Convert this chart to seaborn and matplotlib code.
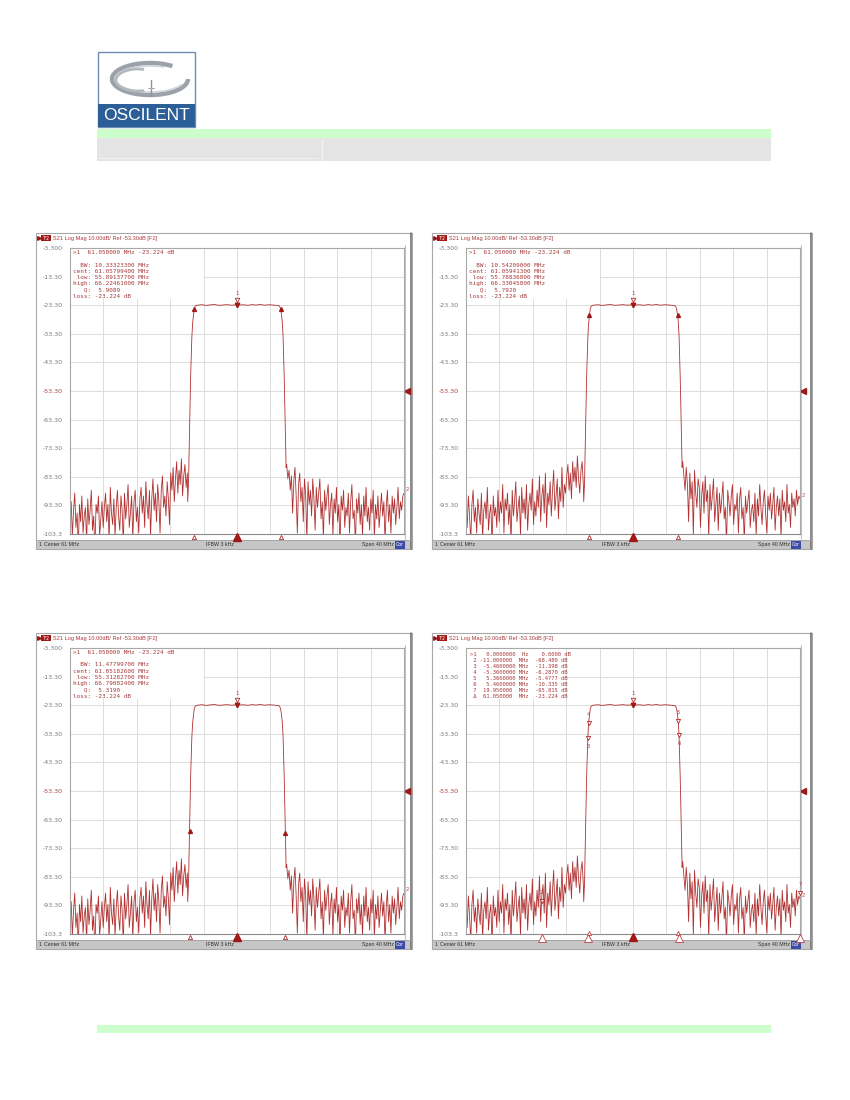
import numpy as np
import matplotlib
matplotlib.use("Agg")
import matplotlib.pyplot as plt
import matplotlib.transforms as mtransforms
from matplotlib.patches import Rectangle, Arc
import seaborn as sns

sns.set_theme(style="white")
plt.rcParams["font.family"] = ["DejaVu Sans"]

W, H = 850, 1100

# analyzer scale
f_start, f_stop = 41.0, 81.0
db_top, db_bottom = -3.3, -103.3
ref_level = -53.3
ytick_labels = ["-3.300", "-13.30", "-23.30", "-33.30", "-43.30", "-53.30",
                "-63.30", "-73.30", "-83.30", "-93.30", "-103.3"]
header_text = "S21 Log Mag 10.00dB/ Ref -53.30dB [F2]"
status_left = "Center 61 MHz"
status_mid = "IFBW 3 kHz"
status_right = "Span 40 MHz"

# filter skirts and passband
edge_lo_freq = [55.10, 55.20, 55.31, 55.45, 55.59, 55.69, 55.79, 55.89, 56.00, 56.15]
edge_lo_db = [-92.0, -85.0, -67.8, -48.0, -34.6, -29.5, -26.6, -24.6, -23.6, -23.35]
flat_db = [-23.30, -23.12, -23.38, -23.20, -23.06, -23.34, -23.24, -23.10, -23.30, -23.18,
           -23.224, -23.15, -23.34, -23.10, -23.26, -23.05, -23.30, -23.14, -23.22, -23.40]
edge_hi_freq = [66.00, 66.12, 66.225, 66.33, 66.41, 66.51, 66.65, 66.79, 66.88]
edge_hi_db = [-23.4, -23.8, -24.6, -26.6, -28.7, -33.6, -48.0, -67.8, -80.0]

# stopband noise, trace A (panels 1 and 3)
noise_lo_a = [-98, -92, -104, -95, -89, -101, -96, -108, -93, -99, -90, -103, -97, -94, -106,
              -91, -100, -95, -88, -102, -97, -109, -93, -96, -90, -104, -98, -92, -101, -94,
              -89, -99, -93, -106, -87, -96, -100, -91, -104, -94, -88, -97, -102, -90, -95,
              -107, -89, -98, -93, -86, -101, -96, -90, -105, -92, -88, -99, -94, -103, -91,
              -87, -96, -90, -101, -85, -93, -98, -88, -104, -91, -84, -95, -89, -99, -86,
              -92, -103, -88, -83, -94, -90, -97, -85, -91, -100,
              -82, -88, -80, -92, -84, -78, -89, -81, -86, -77, -90, -83, -79, -87, -82]
noise_hi_a = [-79, -84, -81, -88, -83, -96, -85, -80, -90, -103, -86, -82, -92, -87, -99,
              -84, -89, -106, -85, -93, -88, -97, -84, -91, -102, -87, -94, -89, -84, -98,
              -92, -105, -88, -95, -90, -86, -100, -93, -89, -104, -91, -96, -87, -99, -93,
              -108, -90, -95, -88, -101, -94, -97, -89, -103, -92, -86, -98, -95, -107, -91,
              -96, -89, -100, -93, -104, -90, -97, -87, -99, -94, -102, -91, -96, -88, -105,
              -93, -98, -90, -101, -95, -89, -97, -92, -106, -94, -88, -99, -93, -103, -90,
              -96, -91, -100, -94, -87, -98, -92, -95, -90, -89]

# stopband noise, trace B (panels 2 and 4)
noise_lo_b = [-95, -101, -90, -97, -106, -93, -88, -99, -94, -103, -91, -96, -100, -89, -105,
              -95, -92, -98, -87, -102, -96, -93, -108, -90, -97, -94, -101, -88, -99, -92,
              -96, -86, -103, -91, -95, -89, -100, -93, -107, -88, -97, -92, -85, -99, -94,
              -90, -104, -87, -96, -91, -98, -86, -102, -93, -89, -95, -84, -100, -92, -97,
              -88, -94, -83, -99, -90, -86, -96, -82, -101, -89, -93, -85, -97, -88, -81,
              -95, -90, -84, -98, -87, -92, -80, -94, -86, -89,
              -83, -79, -88, -82, -91, -78, -85, -80, -87, -76, -84, -89, -81, -78, -86]
noise_hi_b = [-78, -83, -88, -80, -86, -99, -82, -91, -85, -104, -81, -89, -94, -84, -87,
              -101, -90, -85, -96, -83, -92, -88, -105, -86, -95, -90, -84, -99, -93, -87,
              -102, -89, -96, -91, -85, -98, -94, -107, -88, -92, -97, -90, -86, -100, -93,
              -95, -89, -103, -91, -87, -98, -94, -106, -90, -96, -92, -88, -101, -95, -93,
              -99, -89, -104, -91, -97, -86, -94, -100, -92, -88, -96, -103, -90, -95, -89,
              -98, -93, -87, -102, -94, -90, -97, -91, -105, -88, -95, -92, -99, -86, -96,
              -93, -101, -89, -94, -91, -97, -88, -93, -90, -91]

# marker readouts
ref_freq, ref_db = 61.05, -23.224
info_1 = ["  BW: 10.33323300 MHz", "cent: 61.05799400 MHz", " low: 55.89137700 MHz",
          "high: 66.22461000 MHz", "   Q:  5.9089", "loss: -23.224 dB"]
info_2 = ["  BW: 10.54209000 MHz", "cent: 61.05941300 MHz", " low: 55.78836800 MHz",
          "high: 66.33045800 MHz", "   Q:  5.7920", "loss: -23.224 dB"]
info_3 = ["  BW: 11.47799700 MHz", "cent: 61.05182600 MHz", " low: 55.31282700 MHz",
          "high: 66.79082400 MHz", "   Q:  5.3190", "loss: -23.224 dB"]
lowhigh_1 = [55.891377, 66.22461]
lowhigh_2 = [55.788368, 66.330458]
lowhigh_3 = [55.312827, 66.790824]

table_4 = [">1   0.0000000  Hz    0.0000 dB",
           " 2 -11.000000  MHz  -68.480 dB",
           " 3  -5.4600000 MHz  -11.398 dB",
           " 4  -5.3600000 MHz  -6.2870 dB",
           " 5   5.3600000 MHz  -5.4777 dB",
           " 6   5.4600000 MHz  -10.335 dB",
           " 7  19.950000  MHz  -65.815 dB",
           " \u0394  61.050000  MHz  -23.224 dB"]
m4_ids = ["2", "3", "4", "5", "6", "7"]
m4_offset = [-11.0, -5.46, -5.36, 5.36, 5.46, 19.95]
m4_delta = [-68.480, -11.398, -6.2870, -5.4777, -10.335, -65.815]
m4_big = [True, True, False, False, True, True]

RED = "#a01818"
TRACE = "#ad2626"
TXT = "#a83a3a"

fig = plt.figure(figsize=(W / 100, H / 100), dpi=100)
page = fig.add_axes([0, 0, 1, 1], zorder=-1)
page.set_xlim(0, W)
page.set_ylim(H, 0)
page.axis("off")


def ftext(x, y, s, **kw):
    kw.setdefault("va", "center")
    fig.text(x / W, 1 - y / H, s, **kw)


def rect_axes(x0, y0, x1, y1):
    return fig.add_axes([x0 / W, 1 - y1 / H, (x1 - x0) / W, (y1 - y0) / H])


# ---- page furniture: logo and bars ----
page.add_patch(Rectangle((98, 52), 97, 75, facecolor="white", edgecolor="#6f8db0", lw=1))
page.add_patch(Rectangle((98, 104), 97, 23, facecolor="#2c5e98", edgecolor="none"))
page.add_patch(Arc((150, 79), 76, 32, theta1=0, theta2=330, color="#9ca2aa", lw=3.2))
page.add_patch(Arc((150, 79), 70, 26, theta1=10, theta2=320, color="#d2d5da", lw=1.2))
page.add_patch(Arc((138, 80), 44, 22, theta1=60, theta2=300, color="#b4b9c0", lw=2.0))
page.plot([151, 151], [80, 96], color="#8d939b", lw=1.0)
page.plot([148, 154], [88, 88], color="#a8adb4", lw=0.8)
ftext(146.5, 116, "OSCILENT", color="white", fontsize=12.5, ha="center",
      family=["Liberation Sans", "DejaVu Sans"])

page.add_patch(Rectangle((97, 129), 674, 9, facecolor="#ccffcc", edgecolor="none"))
page.add_patch(Rectangle((97, 138), 674, 23, facecolor="#e4e4e4", edgecolor="none"))
page.plot([322, 322], [140, 160], color="#f4f4f4", lw=1.0)
page.plot([98, 318], [158, 158], color="#f0f0f0", lw=0.8)
page.add_patch(Rectangle((97, 1025), 674, 8, facecolor="#ccffcc", edgecolor="none"))


def build_trace(noise_lo, noise_hi):
    lo_f = np.linspace(f_start, 55.05, len(noise_lo))
    flat_f = np.linspace(56.3, 65.8, len(flat_db))
    hi_f = np.linspace(66.95, f_stop, len(noise_hi))
    freq = np.concatenate([lo_f, edge_lo_freq, flat_f, edge_hi_freq, hi_f])
    db = np.concatenate([noise_lo, edge_lo_db, flat_db, edge_hi_db, noise_hi]).astype(float)
    return freq, db


def draw_panel(px, py, pw, freq, db, box_w):
    ph = 316
    page.add_patch(Rectangle((px, py), pw, ph, facecolor="white", edgecolor="#a8a8a8", lw=0.8))
    page.plot([px + pw - 0.5, px + pw - 0.5], [py, py + ph], color="#6a6a6a", lw=1.1)
    page.plot([px + 369, px + 369], [py + 12, py + 306], color="#c4c4c4", lw=0.8)
    # header
    page.plot([px + 3], [py + 5.2], marker=">", ms=2.6, color=RED, mec=RED)
    page.add_patch(Rectangle((px + 5, py + 1.8), 10, 6.6, facecolor=RED, edgecolor="none"))
    ftext(px + 10, py + 5.2, "Tr2", color="white", fontsize=3.4, ha="center")
    ftext(px + 17, py + 5.2, header_text, color=TXT, fontsize=4.1,
          family=["Liberation Sans", "DejaVu Sans"])
    # status bar
    page.add_patch(Rectangle((px + 1, py + 307), pw - 2, 9, facecolor="#c6c6c6", edgecolor="none"))
    page.plot([px + 1, px + pw - 1], [py + 307, py + 307], color="#a0a0a0", lw=0.6)
    sfont = dict(color="#303030", fontsize=3.8, family=["Liberation Sans", "DejaVu Sans"])
    ftext(px + 3, py + 311.5, "1", **sfont)
    ftext(px + 8, py + 311.5, status_left, **sfont)
    ftext(px + 184, py + 311.5, status_mid, ha="center", **sfont)
    ftext(px + 358, py + 311.5, status_right, ha="right", **sfont)
    page.add_patch(Rectangle((px + 359, py + 308), 10, 7.5, facecolor="#3b4ca6", edgecolor="none"))
    ftext(px + 364, py + 311.8, "Cor", color="white", fontsize=3.4, ha="center")

    ax = rect_axes(px + 34, py + 15, px + 368, py + 301)
    ax.set_facecolor("white")
    sns.lineplot(x=freq, y=db, ax=ax, color=TRACE, linewidth=0.6, alpha=0.95,
                 estimator=None, sort=False, legend=False)
    ax.set_xlim(f_start, f_stop)
    ax.set_ylim(db_bottom, db_top)
    ax.set_xticks(np.linspace(f_start, f_stop, 11))
    ax.set_xticklabels([])
    ax.set_yticks(np.linspace(db_top, db_bottom, 11))
    ax.set_yticklabels(ytick_labels)
    ax.tick_params(axis="both", length=0, pad=5, labelsize=4.5, labelcolor="#7a7a7a")
    ax.get_yticklabels()[5].set_color("#b04040")
    ax.set_axisbelow(True)
    ax.grid(True, color="#dcdcdc", lw=0.7)
    for side, sp in ax.spines.items():
        sp.set_color("#a8a8a8")
        sp.set_linewidth(0.8)
    ax.spines["bottom"].set_color("#8a8a8a")
    ax.set_xlabel("")
    ax.set_ylabel("")
    ax.add_patch(Rectangle((0, 0.82), box_w, 0.18, transform=ax.transAxes,
                           facecolor="white", edgecolor="none", zorder=1.5))
    # reference level pointer and trace number
    yblend = mtransforms.blended_transform_factory(ax.transAxes, ax.transData)
    ax.plot([1.010], [ref_level], marker="<", ms=4.2, color=RED, transform=yblend, clip_on=False)
    ax.text(1.004, db[-1] + 1.2, "2", transform=yblend, fontsize=4, color="#c05050",
            va="center", clip_on=False)
    # active marker
    ax.plot([ref_freq], [ref_db], marker="v", ms=3.2, color=RED, mec=RED, zorder=4)
    ax.plot([ref_freq], [ref_db + 1.6], marker="v", ms=3.2, mfc="white", mec=TRACE, mew=0.6, zorder=4)
    ax.text(ref_freq, ref_db + 4.0, "1", ha="center", va="center", fontsize=4, color=TXT)
    xblend = ax.get_xaxis_transform()
    ax.plot([ref_freq], [-0.012], marker="^", ms=5.2, color=RED, mec=RED,
            transform=xblend, clip_on=False, zorder=5)
    return ax, xblend


panels = [(36, 233, 376), (432, 233, 380), (36, 633, 376), (432, 633, 380)]
traces = [build_trace(noise_lo_a, noise_hi_a), build_trace(noise_lo_b, noise_hi_b),
          build_trace(noise_lo_a, noise_hi_a), build_trace(noise_lo_b, noise_hi_b)]
infos = [info_1, info_2, info_3]
lowhighs = [lowhigh_1, lowhigh_2, lowhigh_3]
mono = ["DejaVu Sans Mono"]

for i, ((px, py, pw), (freq, db)) in enumerate(zip(panels, traces)):
    if i < 3:
        ax, xblend = draw_panel(px, py, pw, freq, db, 0.40)
        ftext(px + 37, py + 20, ">1  61.050000 MHz -23.224 dB", color=TXT, fontsize=4.3, family=mono)
        for k, line in enumerate(infos[i]):
            ftext(px + 37, py + 32 + 6.2 * k, line, color=TXT, fontsize=4.3, family=mono)
        lh = lowhighs[i]
        lh_db = np.interp(lh, freq, db)
        ax.plot(lh, lh_db, ls="none", marker="^", ms=2.8, color=RED, mec=RED, zorder=4)
        ax.plot(lh, [-0.012, -0.012], ls="none", marker="^", ms=3.0, mfc="white", mec=TRACE,
                mew=0.6, transform=xblend, clip_on=False, zorder=5)
    else:
        ax, xblend = draw_panel(px, py, pw, freq, db, 0.30)
        for k, line in enumerate(table_4):
            ftext(px + 38, py + 21 + 6.1 * k, line, color=TXT, fontsize=3.95, family=mono)
        m_f = ref_freq + np.array(m4_offset)
        m_db = ref_db + np.array(m4_delta)
        for mid, f, d, big in zip(m4_ids, m_f, m_db, m4_big):
            ax.plot([f], [d], marker="v", ms=3.0, mfc="white", mec=TRACE, mew=0.6, zorder=4,
                    clip_on=False)
            off = -3.0 if mid in ("3", "6") else 3.0
            ax.text(f, d + off, mid, ha="center", va="center", fontsize=3.8, color=TXT,
                    clip_on=False)
            ax.plot([f], [-0.014 if big else 0.004], marker="^", ms=5.5 if big else 3.0,
                    mfc="white", mec="#c04040", mew=0.6, transform=xblend, clip_on=False, zorder=5)

fig.savefig("out.png", dpi=100)
